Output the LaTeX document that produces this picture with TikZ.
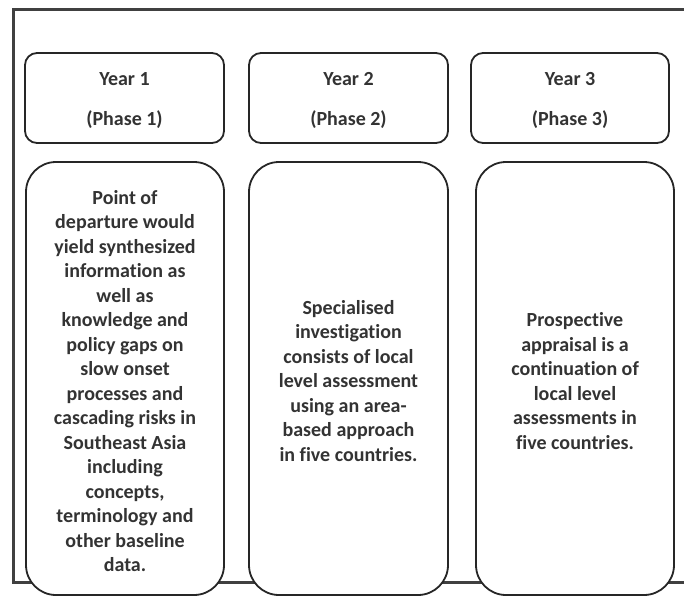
\documentclass[tikz,border=0pt]{standalone}
\usepackage{fontspec}
\setmainfont{Carlito}[Ligatures={NoCommon}]
\begin{document}
\begin{tikzpicture}[x=1pt,y=-1pt,
  hdr/.style={draw=black!85, line width=1.8pt, rounded corners=12pt, fill=white,
    inner sep=0pt, minimum height=90pt},
  hdrtext/.style={align=center, font=\bfseries\fontsize{20}{40}\selectfont,
    text=black!80, yshift=-2.5pt, inner sep=0pt},
  body/.style={draw=black!85, line width=1.8pt, rounded corners=30pt, fill=white,
    inner sep=0pt, minimum height=433pt},
  bodytext/.style={align=center, font=\bfseries\fontsize{20}{24.5}\selectfont,
    text=black!80, yshift=-2.5pt, inner sep=0pt},
  frameline/.style={draw=black!75, line width=3pt}]
\useasboundingbox (0,0) rectangle (684,597);
\coordinate (ftr) at (684,9);
\coordinate (fbl) at (13,582);
\coordinate (fbr) at (684,582);
\draw[frameline] (ftr) -| (fbl) -- (fbr);
\node[hdr, minimum width=199pt, label={[hdrtext]center:Year 1\\(Phase 1)}] (h1) at (124.5,98) {};
\node[hdr, minimum width=199pt, label={[hdrtext]center:Year 2\\(Phase 2)}] (h2) at (348.5,98) {};
\node[hdr, minimum width=198pt, label={[hdrtext]center:Year 3\\(Phase 3)}] (h3) at (570,98) {};
\node[body, minimum width=198pt, label={[bodytext]center:Point of\\departure would\\yield synthesized\\information as\\well as\\knowledge and\\policy gaps on\\slow onset\\processes and\\cascading risks in\\Southeast Asia\\including\\concepts,\\terminology and\\other baseline\\data.}] (b1) at (125,378.5) {};
\node[body, minimum width=199pt, label={[bodytext]center:Specialised\\investigation\\consists of local\\level assessment\\using an area-\\based approach\\in five countries.}] (b2) at (348.5,378.5) {};
\node[body, minimum width=198pt, label={[bodytext]center:Prospective\\appraisal is a\\continuation of\\local level\\assessments in\\five countries.}] (b3) at (575,378.5) {};
\end{tikzpicture}
\end{document}
